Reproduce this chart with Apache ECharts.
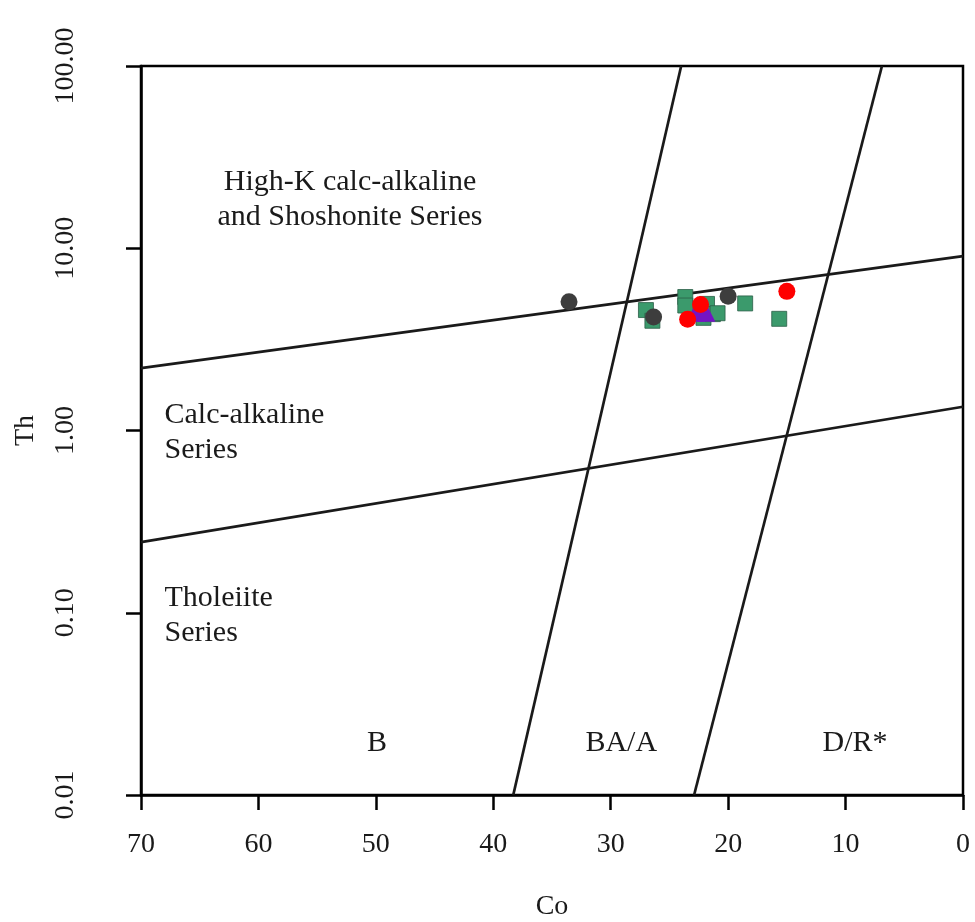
<!DOCTYPE html>
<html><head><meta charset="utf-8">
<script src="https://cdn.jsdelivr.net/npm/echarts@6/dist/echarts.min.js"></script>
<style>html,body{margin:0;padding:0;background:#fff}#c{width:975px;height:922px}</style>
</head><body><div id="c"></div>
<script>
// Boundary lines [Co, Th]
const lineHKCA = [[70, 2.2], [0, 9.05]];
const lineCATH = [[70, 0.244], [0, 1.35]];
const lineB_BA = [[38.3, 0.01], [24.0, 100]];
const lineBA_DR = [[22.9, 0.01], [6.9, 100]];
// Samples [Co, Th]
const greenSquares = [[27.0, 4.58], [26.45, 4.0], [23.65, 5.4], [23.65, 4.85], [21.8, 4.95], [22.1, 4.15], [21.3, 4.35], [20.9, 4.4], [18.55, 4.98], [15.65, 4.1]];
const grayCircles = [[33.55, 5.08], [26.35, 4.2], [20.0, 5.45]];
const purpleTriangles = [[22.75, 4.45], [21.9, 4.45]];
const redCircles = [[23.45, 4.08], [22.35, 4.92], [15.0, 5.8]];
// Field labels [Co, Th, text, align]
const fieldLabels = [
  [52.2, 18.4, 'High-K calc-alkaline\nand Shoshonite Series', 'center'],
  [68.0, 0.97, 'Calc-alkaline\nSeries', 'left'],
  [68.0, 0.096, 'Tholeiite\nSeries', 'left'],
  [49.9, 0.0193, 'B', 'center'],
  [29.1, 0.0193, 'BA/A', 'center'],
  [9.2, 0.0193, 'D/R*', 'center']
];
const xTicks = [0, 10, 20, 30, 40, 50, 60, 70];
const yTicks = [0.01, 0.1, 1, 10, 100];

const FONT = 'Liberation Serif';
const TXT = '#1a1a1a';
const chart = echarts.init(document.getElementById('c'), null, {renderer: 'canvas'});
const lineStyle = {color: '#1a1a1a', width: 2.7};
function bline(d) {
  return {type: 'line', data: d, symbol: 'none', lineStyle: lineStyle, silent: true, z: 3, animation: false};
}
chart.setOption({
  animation: false,
  grid: {left: 141, right: 12, top: 66, bottom: 127, containLabel: false, outerBoundsMode: 'none',
    show: true, borderColor: '#000', borderWidth: 2.5, backgroundColor: 'transparent'},
  xAxis: {
    type: 'value', min: 0, max: 70, interval: 10, inverse: true, position: 'bottom',
    name: 'Co', nameLocation: 'middle', nameGap: 98,
    nameTextStyle: {fontFamily: FONT, fontSize: 28, color: TXT},
    axisLine: {show: true, onZero: false, lineStyle: {color: '#000', width: 2.5}},
    axisTick: {show: true, length: 15, lineStyle: {color: '#000', width: 2.5}},
    axisLabel: {fontFamily: FONT, fontSize: 28, color: TXT, margin: 36,
      formatter: v => xTicks.includes(v) ? String(v) : ''},
    splitLine: {show: false}
  },
  yAxis: {
    type: 'log', logBase: 10, min: 0.01, max: 100, position: 'left',
    name: 'Th', nameLocation: 'middle', nameGap: 101, nameRotate: 90,
    nameTextStyle: {fontFamily: FONT, fontSize: 28, color: TXT},
    axisLine: {show: true, onZero: false, lineStyle: {color: '#000', width: 2.5}},
    axisTick: {show: true, length: 15, lineStyle: {color: '#000', width: 2.5}},
    axisLabel: {fontFamily: FONT, fontSize: 28, color: TXT, rotate: 90, margin: 61,
      formatter: v => yTicks.some(t => Math.abs(t - v) / t < 1e-6) ? v.toFixed(2) : ''},
    splitLine: {show: false}
  },
  series: [
    bline(lineHKCA), bline(lineCATH), bline(lineB_BA), bline(lineBA_DR),
    {type: 'scatter', data: greenSquares, symbol: 'rect', symbolSize: 15, z: 4,
      itemStyle: {color: '#3b9a6c', borderColor: '#2b5e47', borderWidth: 0.8, opacity: 1}},
    {type: 'scatter', data: grayCircles, symbol: 'circle', symbolSize: 17, z: 5,
      itemStyle: {color: '#3d3d3d', opacity: 1}},
    {type: 'scatter', data: purpleTriangles, symbol: 'triangle', symbolSize: 19, z: 6,
      itemStyle: {color: '#7414c4', opacity: 1}},
    {type: 'scatter', data: redCircles, symbol: 'circle', symbolSize: 17, z: 7,
      itemStyle: {color: '#ff0000', opacity: 1}},
    {type: 'scatter', symbolSize: 0, silent: true, z: 8, itemStyle: {opacity: 1},
      data: fieldLabels.map(f => ({value: [f[0], f[1]], label: {show: true, position: 'inside', align: f[3], verticalAlign: 'middle', formatter: f[2]}})),
      label: {fontFamily: FONT, fontSize: 30, color: TXT, lineHeight: 35, opacity: 1}}
  ]
});
</script></body></html>
